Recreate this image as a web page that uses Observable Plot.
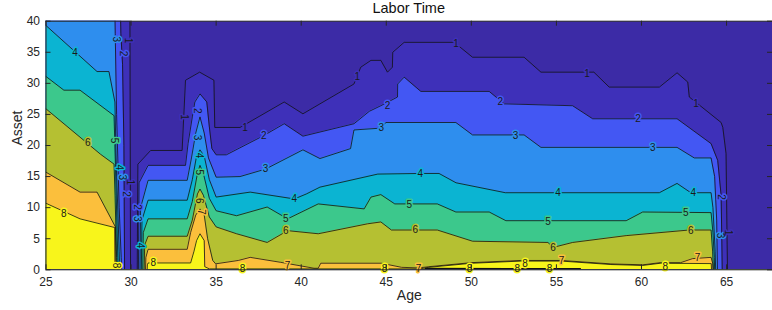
<!DOCTYPE html>
<html><head><meta charset="utf-8">
<script src="https://cdn.jsdelivr.net/npm/d3@7"></script>
<script src="https://cdn.jsdelivr.net/npm/@observablehq/plot@0.6"></script>
<style>
body{margin:0;background:#fff;}
#title{width:772px;box-sizing:border-box;padding-left:45.5px;height:18px;line-height:19px;text-align:center;font:14.5px "Liberation Sans",Arial,sans-serif;color:#111;}
</style></head><body>
<div id="title">Labor Time</div>
<div id="chart"></div>
<script>
// contour boundaries: asset level at which labor time crosses k, as function of age
const age1 = [25, 29.93, 29.97, 30.36, 30.4, 31.15, 33.0, 33.2, 34.03, 34.87, 34.92, 36.4, 39.0, 40.1, 43.1, 43.5, 44.1, 44.68, 45.07, 45.36, 45.38, 46.05, 48.99, 50.07, 53.1, 54.09, 57.2, 58.1, 61.05, 62.09, 62.72, 62.81, 64.68, 64.78, 64.97, 65.03, 65.06, 68];
const asset1 = [45, 45, -1, -1, 17, 19.2, 19.2, 30.5, 31.8, 30.5, 22.9, 22.9, 27.0, 25.1, 29.9, 32.6, 33.7, 33.7, 31.8, 32.6, 35.0, 36.6, 36.6, 34.2, 34.2, 31.8, 31.8, 29.4, 29.4, 31.7, 30.2, 27.8, 23.7, 22.9, 18.7, 5, -1, -1];
const age2 = [25, 29.36, 29.4, 29.5, 29.58, 29.62, 30.43, 30.47, 31.0, 33.2, 33.35, 33.6, 33.75, 34.05, 34.45, 34.6, 34.75, 35.0, 35.6, 37.8, 39.0, 40.1, 43.1, 44.0, 44.68, 45.66, 45.67, 46.05, 47.03, 51.05, 51.93, 55.95, 57.13, 62.09, 64.09, 64.48, 64.68, 64.72, 64.75, 68];
const asset2 = [45, 45, 38, 33, 20, -1, -1, 14, 16.8, 16.8, 20.3, 24.6, 27.0, 28.3, 27.0, 23, 19.5, 18.5, 18.5, 21.6, 23.5, 21.5, 23.5, 25.5, 26.4, 27.8, 29.9, 31.0, 28.7, 28.7, 26.7, 26.4, 24.3, 24.3, 20.3, 17.6, 12, 5, -1, -1];
const age3 = [25, 29.03, 29.07, 29.15, 29.3, 29.42, 29.46, 30.52, 30.56, 31.0, 33.3, 33.55, 33.8, 34.05, 34.3, 34.55, 35.0, 36.4, 37.9, 40.1, 41.1, 42.9, 43.1, 44.7, 44.97, 49.09, 50.07, 53.1, 54.09, 62.09, 63.1, 64.09, 64.3, 64.42, 64.47, 68];
const asset3 = [45, 45, 38, 25, 10, 2, -1, -1, 10, 14.4, 14.4, 18, 22, 24.6, 22, 18, 14.9, 15.0, 16.2, 19.3, 17.9, 19.5, 22.5, 22.8, 23.7, 23.7, 21.7, 21.7, 19.7, 19.7, 18.0, 18.0, 15, 8, -1, -1];
const age4 = [25, 28.0, 28.7, 29.05, 29.12, 29.3, 29.34, 30.6, 30.64, 31.0, 33.3, 33.6, 33.85, 34.05, 34.3, 34.6, 35.0, 37.0, 39.6, 40.3, 41.1, 44.5, 47.0, 48.1, 49.1, 52.0, 61.05, 62.09, 62.9, 64.09, 64.2, 64.33, 64.37, 68];
const asset4 = [39.3, 31.9, 31.9, 27, 18, 3, -1, -1, 8, 11.2, 11.2, 14.5, 18.3, 19.3, 18.3, 14.5, 11.7, 12.5, 11.4, 12.2, 13.3, 15.4, 15.5, 15.5, 14.0, 12.4, 12.4, 13.9, 12.4, 12.4, 10, 3, -1, -1];
const age5 = [25, 26.05, 27.0, 29.0, 29.08, 29.22, 29.26, 30.68, 30.72, 31.0, 33.3, 33.6, 33.9, 34.05, 34.25, 34.6, 35.0, 36.2, 38.0, 39.2, 41.0, 43.7, 44.1, 44.68, 45.5, 48.0, 49.09, 51.05, 52.03, 59.1, 60.07, 64.09, 64.2, 64.28, 64.31, 68];
const asset5 = [31.1, 28.9, 28.9, 24.8, 17, 2, -1, -1, 6, 8.2, 8.2, 11, 15.5, 16.8, 15.5, 11.5, 9.5, 8.7, 10.1, 8.2, 10.6, 9.8, 11.7, 12.1, 10.6, 10.6, 9.3, 9.3, 7.9, 7.9, 9.3, 9.2, 6, 2, -1, -1];
const age6 = [25, 28.2, 29.0, 29.06, 29.15, 29.19, 30.76, 30.8, 31.0, 33.3, 33.6, 33.9, 34.05, 34.25, 34.6, 35.0, 36.2, 38.0, 39.2, 41.0, 43.9, 44.68, 45.3, 48.0, 50.07, 54.5, 54.8, 55.95, 59.1, 62.8, 64.09, 64.18, 64.24, 68];
const asset6 = [25.9, 18.6, 17, 12, 2, -1, -1, 4, 5.4, 5.4, 8, 12.2, 13.0, 12, 8.5, 6.9, 5.8, 4.4, 6.3, 5.8, 7.4, 7.7, 6.4, 6.4, 4.6, 4.4, 3.6, 4.4, 5.5, 6.4, 6.4, 3, -1, -1];
const age7 = [25, 27.0, 28.0, 29.08, 29.1, 29.13, 30.84, 30.87, 31.0, 33.3, 33.5, 33.8, 34.05, 34.3, 34.5, 34.8, 34.97, 36.3, 37.0, 38.8, 40.75, 41.0, 41.15, 44.7, 45.9, 46.9, 47.5, 50.0, 52.9, 55.3, 58.2, 60.07, 61.1, 62.3, 63.0, 64.09, 64.19, 64.22, 68];
const asset7 = [15.7, 12.5, 12.5, 6.9, 3, -1, -1, 2, 3.3, 3.3, 6, 8.8, 9.8, 8.8, 5, 1.5, 0.96, 1.5, 2.0, 1.2, 0.25, 0.25, 1.06, 1.06, 0.4, 0.3, 0.5, 1.15, 1.5, 1.5, 0.95, 0.8, 1.15, 1.15, 1.8, 2.0, 1.0, -1, -1];
const age8 = [25, 27.0, 29.04, 29.06, 30.93, 30.96, 31.0, 33.5, 33.7, 33.85, 34.05, 34.3, 34.33, 34.6, 47.0, 47.5, 50.0, 52.9, 55.3, 58.2, 60.07, 61.1, 64.1, 64.13, 68];
const asset8 = [10.7, 8.2, 6.8, -1, -1, 0.8, 1.1, 1.1, 3, 4.7, 5.8, 4.7, 0.5, 0.15, 0.15, 0.4, 1.05, 1.4, 1.4, 0.85, 0.7, 1.05, 1.0, -1, -1];
const floorAge = [47.3, 56.4];
const floorAsset = [0.2, 0.15];

// contour labels
const flatLabelText  = ["4","6","8","1","2","3","4","5","6","1","1","1","1","2","2","2","3","3","3","4","4","4","5","5","5","6","6","6","7","7","8","8","8","8","8","7","8","8","7","8"];
const flatLabelAge   = [26.7,27.46,26.05,36.7,37.8,37.9,39.6,39.1,39.1,43.3,49.1,56.8,63.2,45.07,51.7,59.8,52.6,60.66,44.7,47.0,55.1,63.05,46.35,54.5,62.6,46.7,54.8,62.9,55.3,63.3,53.15,61.4,54.6,52.7,49.9,46.9,44.9,36.55,39.2,31.3];
const flatLabelAsset = [34.9,20.5,9.0,22.9,21.6,16.2,11.4,8.2,6.3,31.0,36.4,31.6,26.7,26.4,27.1,24.3,21.5,19.6,22.9,15.5,12.4,12.4,10.5,7.8,9.2,6.4,3.6,6.2,1.5,1.9,1.0,0.5,0.2,0.1,0.2,0.2,0.2,0.1,0.7,1.06];
const vertLabelText  = ["1","2","3","4","5","6","7","3","2","1","5","4","3","2","1","2","3","4","8","2","3","1"];
const vertLabelAge   = [33.1,33.9,33.9,34.0,34.03,34.03,34.1,29.1,29.55,29.85,29.0,29.3,29.5,29.7,29.97,30.36,30.36,30.56,29.1,64.7,64.6,65.07];
const vertLabelAsset = [24.6,25.6,21.3,18.4,15.7,11.1,9.3,37.1,34.8,36.9,20.8,16.5,14.9,12.2,14.1,10.1,8.2,3.9,0.7,11.7,5.5,6.0];

const xTicks = [25, 30, 35, 40, 45, 50, 55, 60, 65];
const yTicks = [0, 5, 10, 15, 20, 25, 30, 35, 40];

// parula-like band colours: band k lies between level k and k+1
const bandColors = ["#3c2ba6", "#3e30b9", "#4357f3", "#2e8eee", "#0bb4d2", "#3cc88c", "#b5c032", "#fbbf3c", "#f8f51b"];

const lineAges = [age1, age2, age3, age4, age5, age6, age7, age8];
const lineAssets = [asset1, asset2, asset3, asset4, asset5, asset6, asset7, asset8];
const rows = lineAges.flatMap((a, i) => a.map((x, j) => ({level: i + 1, age: x, asset: lineAssets[i][j]})));
const floorRows = floorAge.map((x, j) => ({age: x, asset: floorAsset[j]}));
const flatLabels = flatLabelText.map((t, i) => ({t, level: +t, age: flatLabelAge[i], asset: flatLabelAsset[i]}));
const vertLabels = vertLabelText.map((t, i) => ({t, level: +t, age: vertLabelAge[i], asset: vertLabelAsset[i]}));

const W = 772, H = 292, mL = 45.5, mR = 0, mT = 2.7, mB = 40.7;
const fw = W - mL - mR, fh = H - mT - mB, tl = 5;
const ink = "#262626";

const marks = [Plot.frame({fill: bandColors[0], stroke: null})];
for (let k = 1; k <= 8; k++) {
  marks.push(Plot.areaY(rows.filter(d => d.level === k), {x: "age", y1: 0, y2: "asset", fill: bandColors[k], clip: true}));
}
marks.push(Plot.line(rows, {x: "age", y: "asset", z: "level", stroke: "#111", strokeWidth: 0.8, clip: true}));
marks.push(Plot.line(floorRows, {x: "age", y: "asset", stroke: "#111", strokeWidth: 1.6, clip: true}));
// label gaps (halo in the band colour), then the digits
const halo = {x: "age", y: "asset", text: "t", fontSize: 10, fill: d => bandColors[d.level], stroke: d => bandColors[d.level], strokeWidth: 3};
const digit = {x: "age", y: "asset", text: "t", fontSize: 10, fill: "#1a1a1a"};
marks.push(Plot.text(flatLabels, halo));
marks.push(Plot.text(vertLabels, {...halo, rotate: 90}));
marks.push(Plot.text(flatLabels, digit));
marks.push(Plot.text(vertLabels, {...digit, rotate: 90}));
// inward ticks on all four sides
marks.push(Plot.tickX(xTicks, {x: d => d, insetTop: fh - tl, stroke: ink}));
marks.push(Plot.tickX(xTicks, {x: d => d, insetBottom: fh - tl, stroke: ink}));
marks.push(Plot.tickY(yTicks, {y: d => d, insetRight: fw - tl, stroke: ink}));
marks.push(Plot.tickY(yTicks, {y: d => d, insetLeft: fw - tl, stroke: ink}));
marks.push(Plot.axisX({ticks: xTicks, tickSize: 0, tickPadding: 8, label: null, fontSize: 12, fill: ink}));
marks.push(Plot.axisY({ticks: yTicks, tickSize: 0, tickPadding: 6, label: null, fontSize: 12, fill: ink}));
marks.push(Plot.frame({stroke: ink, strokeWidth: 1}));
marks.push(Plot.text(["Age"], {frameAnchor: "bottom", dy: 30.5, fontSize: 14, fill: ink}));
marks.push(Plot.text(["Asset"], {frameAnchor: "left", dx: -28.5, rotate: -90, fontSize: 14, fill: ink}));

const chart = Plot.plot({
  width: W, height: H, marginLeft: mL, marginRight: mR, marginTop: mT, marginBottom: mB,
  style: {fontFamily: '"Liberation Sans", Arial, sans-serif', fontSize: "12px", color: ink, background: "white", overflow: "visible"},
  x: {domain: [25, 67.7]},
  y: {domain: [0, 40]},
  color: {type: "identity"},
  marks
});
document.getElementById("chart").appendChild(chart);
</script>
</body></html>
